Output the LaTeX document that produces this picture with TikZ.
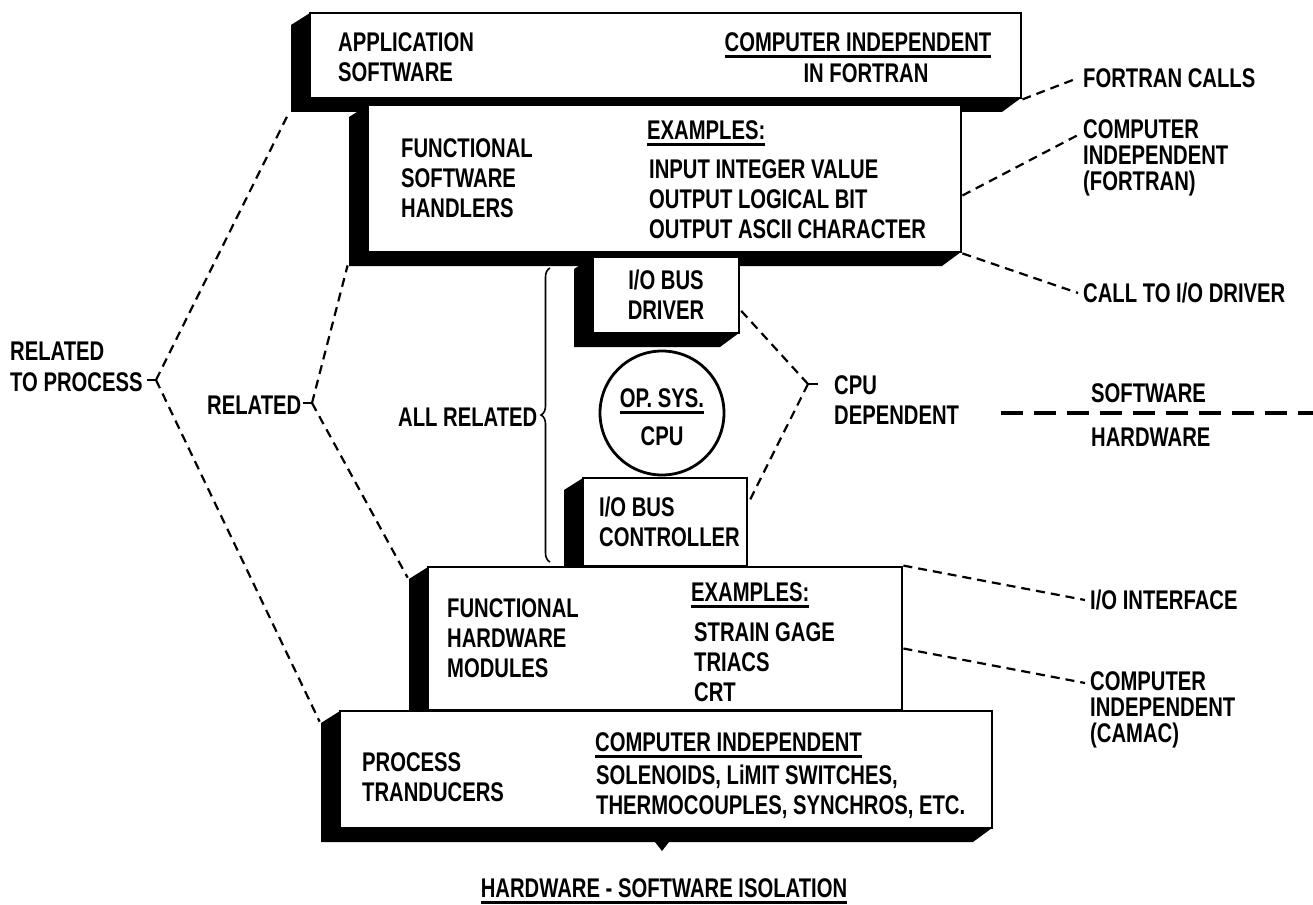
\documentclass[tikz,border=0pt]{standalone}
\usepackage{fontspec}
\setmainfont{Liberation Sans}[FakeStretch=0.75]
\usetikzlibrary{decorations.pathreplacing}

% box with a black slab along its left side and bottom
\newcommand{\slab}[5]{%
  \fill (#2,#3) -- (#4,#3) -- (#4,#5) -- ++(-19,14) -- ({#2-19},{#5+14}) -- ({#2-19},{#3+12}) -- cycle;
  \node[slab, minimum width={#4-#2}, minimum height={#5-#3}] (#1) at ({(#2+#4)/2},{(#3+#5)/2}) {};}

\begin{document}
\begin{tikzpicture}[x=1pt, y=-1pt]
  \tikzstyle{every node}=[inner sep=0pt, align=left, font=\bfseries\fontsize{27}{30}\selectfont]
  \tikzstyle{slab}=[draw, fill=white, line width=2.8pt]
  \tikzstyle{side}=[font=\bfseries\fontsize{27}{26}\selectfont]
  \tikzstyle{lead}=[line width=2.2pt, dash pattern=on 9pt off 6pt]
  \tikzstyle{ulined}=[inner ysep=8pt, path picture={\draw[line width=2.4pt] ([yshift=3pt]path picture bounding box.south west) -- ([yshift=3pt]path picture bounding box.south east);}]
  \useasboundingbox (0,0) rectangle (1313,904);

  % the stack
  \slab{app}{310}{13}{1021}{98}
  \slab{fsh}{368}{105}{961}{252}
  \slab{drv}{593}{257}{739}{333}
  \slab{ctl}{583}{478}{747}{566}
  \slab{fhm}{428}{567}{902}{710}
  \slab{prc}{340}{711}{992}{828}
  \node[draw, circle, line width=2.8pt, fill=white, minimum size=124pt] (os) at (662,413) {};
  \fill (655,842) -- (669,842) -- (662,851) -- cycle;

  % texts in the boxes
  \node[anchor=west] (appT) at (338,57) {APPLICATION\\SOFTWARE};
  \node[ulined] (appC) at (858,42) {COMPUTER INDEPENDENT};
  \node (appF) at (866,73) {IN FORTRAN};
  \node[anchor=west] (fshT) at (401,178) {FUNCTIONAL\\SOFTWARE\\HANDLERS};
  \node[anchor=west, ulined] (fshE) at (647,130) {EXAMPLES:};
  \node[anchor=west] (fshL) at (649,199) {INPUT INTEGER VALUE\\OUTPUT LOGICAL BIT\\OUTPUT ASCII CHARACTER};
  \node[align=center] (drvT) at (666,295) {I/O BUS\\DRIVER};
  \node[ulined] (osT) at (662,398) {OP. SYS.};
  \node (osC) at (662,436) {CPU};
  \node[anchor=west] (ctlT) at (599,522) {I/O BUS\\CONTROLLER};
  \node[anchor=west] (fhmT) at (447,638) {FUNCTIONAL\\HARDWARE\\MODULES};
  \node[anchor=west, ulined] (fhmE) at (691,592) {EXAMPLES:};
  \node[anchor=west] (fhmL) at (694,662) {STRAIN GAGE\\TRIACS\\CRT};
  \node[anchor=west] (prcT) at (362,777) {PROCESS\\TRANDUCERS};
  \node[anchor=west, ulined] (prcC) at (595,742) {COMPUTER INDEPENDENT};
  \node[anchor=west] (prcL) at (596,792) {SOLENOIDS, LiMIT SWITCHES,\\THERMOCOUPLES, SYNCHROS, ETC.};
  \node[ulined] (cap) at (664,888) {HARDWARE - SOFTWARE ISOLATION};

  % labels round the stack
  \node[anchor=west, font=\bfseries\fontsize{27}{31}\selectfont] (rtp) at (10,367) {RELATED\\TO PROCESS};
  \node[anchor=west] (rel) at (207,405) {RELATED};
  \node[anchor=west] (allrel) at (398,417) {ALL RELATED};
  \node[anchor=west] (cpud) at (834,400) {CPU\\DEPENDENT};
  \node[anchor=west] (swT) at (1091,393) {SOFTWARE};
  \node[anchor=west] (hwT) at (1091,437) {HARDWARE};
  \node[anchor=west] (fcT) at (1083,78) {FORTRAN CALLS};
  \node[anchor=west, side] (ciF) at (1083,158) {COMPUTER\\INDEPENDENT\\(FORTRAN)};
  \node[anchor=west] (cdT) at (1083,293) {CALL TO I/O DRIVER};
  \node[anchor=west] (ioT) at (1090,600) {I/O INTERFACE};
  \node[anchor=west, side] (ciC) at (1090,710) {COMPUTER\\INDEPENDENT\\(CAMAC)};

  \coordinate (tpT) at (156,380);
  \coordinate (relT) at (312,403);
  \coordinate (cpuT) at (808,384);
  \coordinate (brB) at (550,562);
  \coordinate (brT) at (550,268);
  \coordinate (swL) at (1001,413);
  \coordinate (swR) at (1313,413);

  % leaders
  \draw[lead] (tpT) -- ([shift={(-19,12)}]app.south west);
  \draw[lead] (tpT) -- ([shift={(-19,12)}]prc.north west);
  \draw[line width=2.2pt] (tpT) -- ++(-9,0);
  \draw[lead] (relT) -- ([shift={(-19,12)}]fsh.south west);
  \draw[lead] (relT) -- ([shift={(-19,12)}]fhm.north west);
  \draw[line width=2.2pt] (relT) -- ++(-9,0);
  \draw[decorate, decoration={brace, amplitude=9pt}, line width=1.6pt] (brB) -- (brT);
  \draw[lead] (cpuT) -- ([yshift=-15pt]drv.east);
  \draw[lead] (cpuT) -- ([yshift=19pt]ctl.east);
  \draw[line width=2.2pt] (cpuT) -- ++(10,0);
  \draw[lead] (app.south east) -- ([xshift=-5pt]fcT.west);
  \draw[lead] ([yshift=-17pt]fsh.east) -- ([shift={(-5,-23)}]ciF.west);
  \draw[lead] (fsh.south east) -- ([xshift=-5pt]cdT.west);
  \draw[lead] (fhm.north east) -- ([xshift=-5pt]ioT.west);
  \draw[lead] ([yshift=-10pt]fhm.east) -- ([shift={(-5,-27)}]ciC.west);
  \draw[line width=4pt, dash pattern=on 22pt off 11pt] (swL) -- (swR);
\end{tikzpicture}
\end{document}
